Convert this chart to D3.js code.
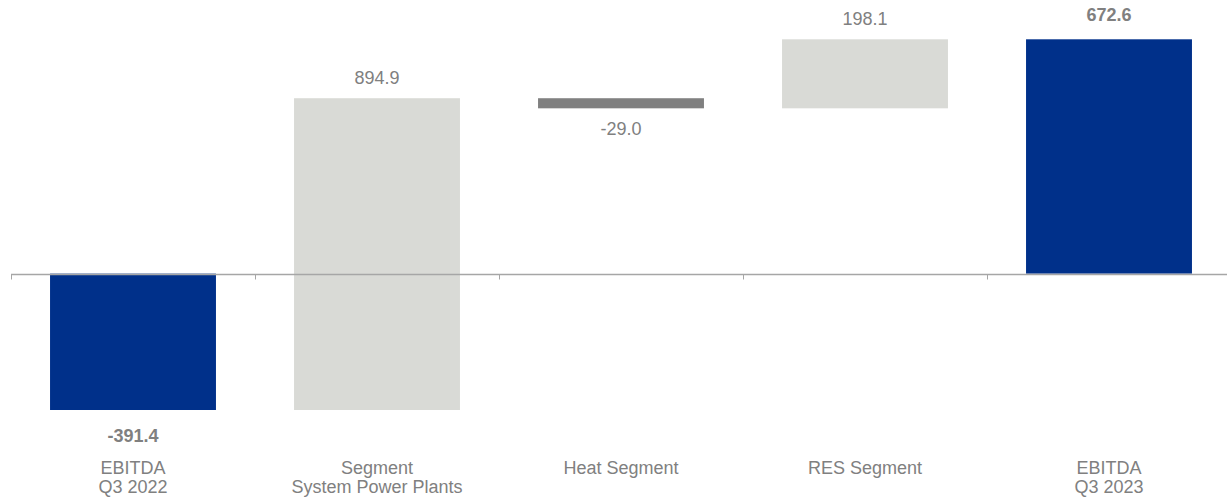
<!DOCTYPE html>
<html>
<head>
<meta charset="utf-8">
<script src="https://cdn.jsdelivr.net/npm/d3@7/dist/d3.min.js"></script>
<style>
  html, body { margin: 0; padding: 0; background: #fff; }
  svg { display: block; font-family: "Liberation Sans", Arial, sans-serif; }
</style>
</head>
<body>
<svg id="chart" width="1227" height="500"></svg>
<script>
// ---- data ----
const categories = [
  ["EBITDA", "Q3 2022"],
  ["Segment", "System Power Plants"],
  ["Heat Segment"],
  ["RES Segment"],
  ["EBITDA", "Q3 2023"]
];
const values = [-391.4, 894.9, -29.0, 198.1, 672.6];
const kinds = ["total", "delta", "delta", "delta", "total"];
const valueLabels = ["-391.4", "894.9", "-29.0", "198.1", "672.6"];

// ---- styling ----
const W = 1227, H = 500;
const colTotal = "#00308A";
const colUp = "#D9DAD6";
const colDown = "#808080";
const textCol = "#808080";
const axisCol = "#A6A6A6";
const fontSize = 18;

// ---- waterfall computation ----
let running = 0;
const bars = values.map((v, i) => {
  let y0, y1;
  if (kinds[i] === "total") { y0 = 0; y1 = v; running = v; }
  else { y0 = running; y1 = running + v; running = y1; }
  return { i, v, y0, y1, kind: kinds[i], label: valueLabels[i], cat: categories[i] };
});

const svg = d3.select("#chart");

const x = d3.scaleBand()
  .domain(d3.range(categories.length))
  .range([11, 11 + 244 * categories.length])
  .paddingInner(0.32)
  .paddingOuter(0.16);

const lo = d3.min(bars, d => Math.min(d.y0, d.y1));
const hi = d3.max(bars, d => Math.max(d.y0, d.y1));
const y = d3.scaleLinear().domain([lo, hi]).range([410, 39.3]);

// bars
svg.append("g").selectAll("rect")
  .data(bars)
  .join("rect")
  .attr("x", d => x(d.i))
  .attr("width", x.bandwidth())
  .attr("y", d => y(Math.max(d.y0, d.y1)))
  .attr("height", d => Math.abs(y(d.y0) - y(d.y1)))
  .attr("fill", d => d.kind === "total" ? colTotal : (d.v >= 0 ? colUp : colDown));

// axis line with ticks at band boundaries
const y0px = Math.round(y(0)) + 0.5;
const step = x.step();
const bounds = d3.range(categories.length + 1).map(k => x.range()[0] + k * step);
const ax = svg.append("g");
ax.append("line")
  .attr("x1", bounds[0]).attr("x2", W)
  .attr("y1", y0px).attr("y2", y0px)
  .attr("stroke", axisCol).attr("stroke-width", 1.5);
ax.selectAll("line.tick")
  .data(bounds)
  .join("line")
  .attr("class", "tick")
  .attr("x1", d => Math.round(d) + 0.5).attr("x2", d => Math.round(d) + 0.5)
  .attr("y1", y0px).attr("y2", y0px + 5)
  .attr("stroke", axisCol).attr("stroke-width", 1);

// value labels
svg.append("g").selectAll("text")
  .data(bars)
  .join("text")
  .attr("x", d => x(d.i) + x.bandwidth() / 2)
  .attr("y", d => {
    const top = y(Math.max(d.y0, d.y1));
    const bot = y(Math.min(d.y0, d.y1));
    if (d.v >= 0) return top - (d.kind === "total" ? 18 : 14);
    return bot + (d.kind === "total" ? 32 : 27);
  })
  .attr("text-anchor", "middle")
  .attr("font-size", fontSize)
  .attr("font-weight", d => d.kind === "total" ? "bold" : "normal")
  .attr("fill", textCol)
  .text(d => d.label);

// category labels
const cg = svg.append("g").selectAll("text")
  .data(bars)
  .join("text")
  .attr("x", d => x(d.i) + x.bandwidth() / 2)
  .attr("y", 473.5)
  .attr("text-anchor", "middle")
  .attr("font-size", fontSize)
  .attr("fill", textCol);
cg.selectAll("tspan")
  .data(d => d.cat.map((t, k) => ({ t, k, cx: x(d.i) + x.bandwidth() / 2 })))
  .join("tspan")
  .attr("x", d => d.cx)
  .attr("dy", d => d.k === 0 ? 0 : 19)
  .text(d => d.t);
</script>
</body>
</html>
